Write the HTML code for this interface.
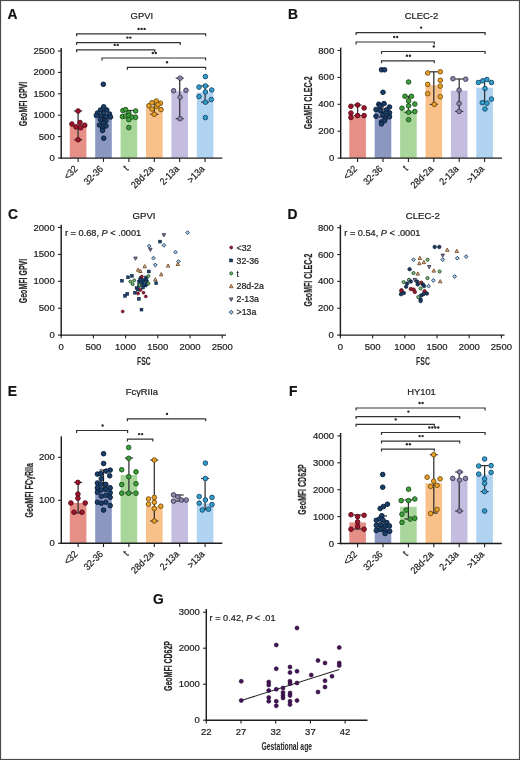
<!DOCTYPE html><html><head><meta charset="utf-8"><style>html,body{margin:0;padding:0;background:#fff;}svg{display:block;will-change:transform;}</style></head><body>
<svg width="520" height="760" viewBox="0 0 520 760" font-family='"Liberation Sans", sans-serif'>
<style>text{stroke:#1e1e1e;stroke-width:0.22px;} text.nb{stroke:none;}</style>
<rect x="0" y="0" width="520" height="760" fill="#fff"/>
<text x="7.60" y="18.70" font-size="13.8" text-anchor="start" font-weight="bold" fill="#111" >A</text>
<text x="141.80" y="18.90" font-size="9.4" text-anchor="middle" font-weight="normal" fill="#222222" >GPVI</text>
<text transform="translate(23.30,104.00) rotate(-90)" x="0" y="0" font-size="10.4" text-anchor="middle" dominant-baseline="central" fill="#262626" font-weight="bold" textLength="44.5" lengthAdjust="spacingAndGlyphs">GeoMFI GPVI</text>
<rect x="69.80" y="125.60" width="16.6" height="32.50" fill="#e68f87"/>
<rect x="95.20" y="116.30" width="16.6" height="41.80" fill="#8b97c0"/>
<rect x="120.60" y="114.90" width="16.6" height="43.20" fill="#a9d69b"/>
<rect x="146.00" y="107.50" width="16.6" height="50.60" fill="#f8c189"/>
<rect x="171.40" y="91.30" width="16.6" height="66.80" fill="#c4bde0"/>
<rect x="196.80" y="92.50" width="16.6" height="65.60" fill="#afd3f1"/>
<line x1="78.10" y1="111.00" x2="78.10" y2="139.75" stroke="#2e2e2e" stroke-width="1.25"/>
<line x1="74.10" y1="111.00" x2="82.10" y2="111.00" stroke="#2e2e2e" stroke-width="1.2"/>
<line x1="74.10" y1="139.75" x2="82.10" y2="139.75" stroke="#2e2e2e" stroke-width="1.2"/>
<line x1="103.50" y1="110.00" x2="103.50" y2="124.00" stroke="#2e2e2e" stroke-width="1.25"/>
<line x1="99.50" y1="110.00" x2="107.50" y2="110.00" stroke="#2e2e2e" stroke-width="1.2"/>
<line x1="99.50" y1="124.00" x2="107.50" y2="124.00" stroke="#2e2e2e" stroke-width="1.2"/>
<line x1="128.90" y1="110.50" x2="128.90" y2="117.50" stroke="#2e2e2e" stroke-width="1.25"/>
<line x1="124.90" y1="110.50" x2="132.90" y2="110.50" stroke="#2e2e2e" stroke-width="1.2"/>
<line x1="124.90" y1="117.50" x2="132.90" y2="117.50" stroke="#2e2e2e" stroke-width="1.2"/>
<line x1="154.30" y1="102.00" x2="154.30" y2="114.30" stroke="#2e2e2e" stroke-width="1.25"/>
<line x1="150.30" y1="102.00" x2="158.30" y2="102.00" stroke="#2e2e2e" stroke-width="1.2"/>
<line x1="150.30" y1="114.30" x2="158.30" y2="114.30" stroke="#2e2e2e" stroke-width="1.2"/>
<line x1="179.70" y1="78.20" x2="179.70" y2="118.70" stroke="#2e2e2e" stroke-width="1.25"/>
<line x1="175.70" y1="78.20" x2="183.70" y2="78.20" stroke="#2e2e2e" stroke-width="1.2"/>
<line x1="175.70" y1="118.70" x2="183.70" y2="118.70" stroke="#2e2e2e" stroke-width="1.2"/>
<line x1="205.10" y1="86.00" x2="205.10" y2="102.20" stroke="#2e2e2e" stroke-width="1.25"/>
<line x1="201.10" y1="86.00" x2="209.10" y2="86.00" stroke="#2e2e2e" stroke-width="1.2"/>
<line x1="201.10" y1="102.20" x2="209.10" y2="102.20" stroke="#2e2e2e" stroke-width="1.2"/>
<circle cx="78.10" cy="111.00" r="2.3" fill="#9e162c" stroke="#5c0c18" stroke-width="0.95"/>
<circle cx="71.90" cy="124.00" r="2.3" fill="#9e162c" stroke="#5c0c18" stroke-width="0.95"/>
<circle cx="80.00" cy="122.50" r="2.3" fill="#9e162c" stroke="#5c0c18" stroke-width="0.95"/>
<circle cx="76.00" cy="126.90" r="2.3" fill="#9e162c" stroke="#5c0c18" stroke-width="0.95"/>
<circle cx="80.60" cy="127.75" r="2.3" fill="#9e162c" stroke="#5c0c18" stroke-width="0.95"/>
<circle cx="84.75" cy="125.25" r="2.3" fill="#9e162c" stroke="#5c0c18" stroke-width="0.95"/>
<circle cx="78.10" cy="139.75" r="2.3" fill="#9e162c" stroke="#5c0c18" stroke-width="0.95"/>
<circle cx="103.30" cy="84.30" r="2.3" fill="#1a3e68" stroke="#0a1f38" stroke-width="0.95"/>
<circle cx="103.70" cy="106.80" r="2.3" fill="#1a3e68" stroke="#0a1f38" stroke-width="0.95"/>
<circle cx="100.50" cy="110.00" r="2.3" fill="#1a3e68" stroke="#0a1f38" stroke-width="0.95"/>
<circle cx="106.80" cy="110.00" r="2.3" fill="#1a3e68" stroke="#0a1f38" stroke-width="0.95"/>
<circle cx="97.50" cy="113.00" r="2.3" fill="#1a3e68" stroke="#0a1f38" stroke-width="0.95"/>
<circle cx="103.70" cy="113.00" r="2.3" fill="#1a3e68" stroke="#0a1f38" stroke-width="0.95"/>
<circle cx="109.50" cy="114.00" r="2.3" fill="#1a3e68" stroke="#0a1f38" stroke-width="0.95"/>
<circle cx="96.30" cy="115.50" r="2.3" fill="#1a3e68" stroke="#0a1f38" stroke-width="0.95"/>
<circle cx="101.00" cy="116.00" r="2.3" fill="#1a3e68" stroke="#0a1f38" stroke-width="0.95"/>
<circle cx="106.00" cy="116.50" r="2.3" fill="#1a3e68" stroke="#0a1f38" stroke-width="0.95"/>
<circle cx="110.50" cy="117.00" r="2.3" fill="#1a3e68" stroke="#0a1f38" stroke-width="0.95"/>
<circle cx="100.50" cy="119.50" r="2.3" fill="#1a3e68" stroke="#0a1f38" stroke-width="0.95"/>
<circle cx="106.00" cy="120.50" r="2.3" fill="#1a3e68" stroke="#0a1f38" stroke-width="0.95"/>
<circle cx="103.70" cy="123.00" r="2.3" fill="#1a3e68" stroke="#0a1f38" stroke-width="0.95"/>
<circle cx="99.50" cy="125.00" r="2.3" fill="#1a3e68" stroke="#0a1f38" stroke-width="0.95"/>
<circle cx="106.00" cy="126.00" r="2.3" fill="#1a3e68" stroke="#0a1f38" stroke-width="0.95"/>
<circle cx="102.50" cy="128.50" r="2.3" fill="#1a3e68" stroke="#0a1f38" stroke-width="0.95"/>
<circle cx="102.50" cy="130.50" r="2.3" fill="#1a3e68" stroke="#0a1f38" stroke-width="0.95"/>
<circle cx="103.70" cy="138.20" r="2.3" fill="#1a3e68" stroke="#0a1f38" stroke-width="0.95"/>
<circle cx="122.90" cy="110.60" r="2.3" fill="#3f9f3c" stroke="#1d531c" stroke-width="0.95"/>
<circle cx="125.60" cy="109.60" r="2.3" fill="#3f9f3c" stroke="#1d531c" stroke-width="0.95"/>
<circle cx="135.60" cy="111.00" r="2.3" fill="#3f9f3c" stroke="#1d531c" stroke-width="0.95"/>
<circle cx="128.80" cy="112.80" r="2.3" fill="#3f9f3c" stroke="#1d531c" stroke-width="0.95"/>
<circle cx="122.40" cy="116.50" r="2.3" fill="#3f9f3c" stroke="#1d531c" stroke-width="0.95"/>
<circle cx="125.60" cy="116.00" r="2.3" fill="#3f9f3c" stroke="#1d531c" stroke-width="0.95"/>
<circle cx="128.80" cy="115.40" r="2.3" fill="#3f9f3c" stroke="#1d531c" stroke-width="0.95"/>
<circle cx="131.90" cy="117.00" r="2.3" fill="#3f9f3c" stroke="#1d531c" stroke-width="0.95"/>
<circle cx="135.60" cy="117.30" r="2.3" fill="#3f9f3c" stroke="#1d531c" stroke-width="0.95"/>
<circle cx="128.80" cy="119.60" r="2.3" fill="#3f9f3c" stroke="#1d531c" stroke-width="0.95"/>
<circle cx="128.80" cy="127.60" r="2.3" fill="#3f9f3c" stroke="#1d531c" stroke-width="0.95"/>
<circle cx="148.90" cy="105.70" r="2.3" fill="#e9a02c" stroke="#7a520f" stroke-width="0.95"/>
<circle cx="152.00" cy="102.70" r="2.3" fill="#e9a02c" stroke="#7a520f" stroke-width="0.95"/>
<circle cx="156.30" cy="101.10" r="2.3" fill="#e9a02c" stroke="#7a520f" stroke-width="0.95"/>
<circle cx="160.50" cy="103.20" r="2.3" fill="#e9a02c" stroke="#7a520f" stroke-width="0.95"/>
<circle cx="156.80" cy="106.40" r="2.3" fill="#e9a02c" stroke="#7a520f" stroke-width="0.95"/>
<circle cx="152.00" cy="109.00" r="2.3" fill="#e9a02c" stroke="#7a520f" stroke-width="0.95"/>
<circle cx="161.00" cy="109.60" r="2.3" fill="#e9a02c" stroke="#7a520f" stroke-width="0.95"/>
<circle cx="154.20" cy="114.30" r="2.3" fill="#e9a02c" stroke="#7a520f" stroke-width="0.95"/>
<circle cx="158.00" cy="104.50" r="2.3" fill="#e9a02c" stroke="#7a520f" stroke-width="0.95"/>
<circle cx="173.60" cy="90.70" r="2.3" fill="#8c85a8" stroke="#45405c" stroke-width="0.95"/>
<circle cx="186.00" cy="90.30" r="2.3" fill="#8c85a8" stroke="#45405c" stroke-width="0.95"/>
<circle cx="180.10" cy="78.20" r="2.3" fill="#8c85a8" stroke="#45405c" stroke-width="0.95"/>
<circle cx="180.10" cy="97.20" r="2.3" fill="#8c85a8" stroke="#45405c" stroke-width="0.95"/>
<circle cx="180.10" cy="118.70" r="2.3" fill="#8c85a8" stroke="#45405c" stroke-width="0.95"/>
<circle cx="205.40" cy="76.60" r="2.3" fill="#359dca" stroke="#174f72" stroke-width="0.95"/>
<circle cx="199.00" cy="87.10" r="2.3" fill="#359dca" stroke="#174f72" stroke-width="0.95"/>
<circle cx="205.40" cy="86.00" r="2.3" fill="#359dca" stroke="#174f72" stroke-width="0.95"/>
<circle cx="211.70" cy="90.00" r="2.3" fill="#359dca" stroke="#174f72" stroke-width="0.95"/>
<circle cx="205.40" cy="92.00" r="2.3" fill="#359dca" stroke="#174f72" stroke-width="0.95"/>
<circle cx="199.00" cy="96.60" r="2.3" fill="#359dca" stroke="#174f72" stroke-width="0.95"/>
<circle cx="211.30" cy="99.50" r="2.3" fill="#359dca" stroke="#174f72" stroke-width="0.95"/>
<circle cx="205.40" cy="102.20" r="2.3" fill="#359dca" stroke="#174f72" stroke-width="0.95"/>
<circle cx="205.40" cy="117.60" r="2.3" fill="#359dca" stroke="#174f72" stroke-width="0.95"/>
<line x1="61.20" y1="48.00" x2="61.20" y2="158.80" stroke="#1e1e1e" stroke-width="1.45"/>
<line x1="58.00" y1="158.00" x2="61.20" y2="158.00" stroke="#1e1e1e" stroke-width="1.1"/>
<text x="54.70" y="161.00" font-size="9.5" text-anchor="end" font-weight="normal" fill="#222222" >0</text>
<line x1="58.00" y1="136.60" x2="61.20" y2="136.60" stroke="#1e1e1e" stroke-width="1.1"/>
<text x="54.70" y="139.60" font-size="9.5" text-anchor="end" font-weight="normal" fill="#222222" >500</text>
<line x1="58.00" y1="115.20" x2="61.20" y2="115.20" stroke="#1e1e1e" stroke-width="1.1"/>
<text x="54.70" y="118.20" font-size="9.5" text-anchor="end" font-weight="normal" fill="#222222" >1000</text>
<line x1="58.00" y1="93.80" x2="61.20" y2="93.80" stroke="#1e1e1e" stroke-width="1.1"/>
<text x="54.70" y="96.80" font-size="9.5" text-anchor="end" font-weight="normal" fill="#222222" >1500</text>
<line x1="58.00" y1="72.40" x2="61.20" y2="72.40" stroke="#1e1e1e" stroke-width="1.1"/>
<text x="54.70" y="75.40" font-size="9.5" text-anchor="end" font-weight="normal" fill="#222222" >2000</text>
<line x1="58.00" y1="51.00" x2="61.20" y2="51.00" stroke="#1e1e1e" stroke-width="1.1"/>
<text x="54.70" y="54.00" font-size="9.5" text-anchor="end" font-weight="normal" fill="#222222" >2500</text>
<line x1="60.50" y1="158.10" x2="222.30" y2="158.10" stroke="#1e1e1e" stroke-width="1.45"/>
<line x1="78.10" y1="158.10" x2="78.10" y2="161.90" stroke="#1e1e1e" stroke-width="1.1"/>
<text transform="translate(78.20,169.60) rotate(-45) scale(0.9,1)" x="0" y="0" font-size="9.8" font-weight="500" text-anchor="end" fill="#222222">&lt;32</text>
<line x1="103.50" y1="158.10" x2="103.50" y2="161.90" stroke="#1e1e1e" stroke-width="1.1"/>
<text transform="translate(103.60,169.60) rotate(-45) scale(0.9,1)" x="0" y="0" font-size="9.8" font-weight="500" text-anchor="end" fill="#222222">32-36</text>
<line x1="128.90" y1="158.10" x2="128.90" y2="161.90" stroke="#1e1e1e" stroke-width="1.1"/>
<text transform="translate(129.00,169.60) rotate(-45) scale(0.9,1)" x="0" y="0" font-size="9.8" font-weight="500" text-anchor="end" fill="#222222">t</text>
<line x1="154.30" y1="158.10" x2="154.30" y2="161.90" stroke="#1e1e1e" stroke-width="1.1"/>
<text transform="translate(154.40,169.60) rotate(-45) scale(0.9,1)" x="0" y="0" font-size="9.8" font-weight="500" text-anchor="end" fill="#222222">28d-2a</text>
<line x1="179.70" y1="158.10" x2="179.70" y2="161.90" stroke="#1e1e1e" stroke-width="1.1"/>
<text transform="translate(179.80,169.60) rotate(-45) scale(0.9,1)" x="0" y="0" font-size="9.8" font-weight="500" text-anchor="end" fill="#222222">2-13a</text>
<line x1="205.10" y1="158.10" x2="205.10" y2="161.90" stroke="#1e1e1e" stroke-width="1.1"/>
<text transform="translate(205.20,169.60) rotate(-45) scale(0.9,1)" x="0" y="0" font-size="9.8" font-weight="500" text-anchor="end" fill="#222222">&gt;13a</text>
<path d="M76.60,36.30 V33.90 H205.60 V36.30" fill="none" stroke="#333333" stroke-width="1.2"/>
<circle cx="138.60" cy="28.90" r="1.2" fill="#2a2a2a"/>
<circle cx="141.60" cy="28.90" r="1.2" fill="#2a2a2a"/>
<circle cx="144.60" cy="28.90" r="1.2" fill="#2a2a2a"/>
<path d="M76.60,45.00 V42.60 H180.20 V45.00" fill="none" stroke="#333333" stroke-width="1.2"/>
<circle cx="127.40" cy="37.60" r="1.2" fill="#2a2a2a"/>
<circle cx="130.40" cy="37.60" r="1.2" fill="#2a2a2a"/>
<path d="M76.60,52.30 V49.90 H154.80 V52.30" fill="none" stroke="#333333" stroke-width="1.2"/>
<circle cx="114.70" cy="44.90" r="1.2" fill="#2a2a2a"/>
<circle cx="117.70" cy="44.90" r="1.2" fill="#2a2a2a"/>
<path d="M102.00,60.40 V58.00 H205.60 V60.40" fill="none" stroke="#333333" stroke-width="1.2"/>
<circle cx="152.80" cy="53.00" r="1.2" fill="#2a2a2a"/>
<circle cx="155.80" cy="53.00" r="1.2" fill="#2a2a2a"/>
<path d="M127.40,69.70 V67.30 H205.60 V69.70" fill="none" stroke="#333333" stroke-width="1.2"/>
<circle cx="167.00" cy="62.30" r="1.2" fill="#2a2a2a"/>
<text x="288.00" y="18.70" font-size="13.8" text-anchor="start" font-weight="bold" fill="#111" >B</text>
<text x="421.50" y="18.90" font-size="9.4" text-anchor="middle" font-weight="normal" fill="#222222" >CLEC-2</text>
<text transform="translate(308.30,102.80) rotate(-90)" x="0" y="0" font-size="10.4" text-anchor="middle" dominant-baseline="central" fill="#262626" font-weight="bold" textLength="53.0" lengthAdjust="spacingAndGlyphs">GeoMFI CLEC-2</text>
<rect x="349.30" y="116.40" width="16.6" height="41.70" fill="#e68f87"/>
<rect x="374.70" y="111.00" width="16.6" height="47.10" fill="#8b97c0"/>
<rect x="400.10" y="110.70" width="16.6" height="47.40" fill="#a9d69b"/>
<rect x="425.50" y="85.20" width="16.6" height="72.90" fill="#f8c189"/>
<rect x="450.90" y="90.60" width="16.6" height="67.50" fill="#c4bde0"/>
<rect x="476.30" y="87.70" width="16.6" height="70.40" fill="#afd3f1"/>
<line x1="357.60" y1="105.00" x2="357.60" y2="115.60" stroke="#2e2e2e" stroke-width="1.25"/>
<line x1="353.60" y1="105.00" x2="361.60" y2="105.00" stroke="#2e2e2e" stroke-width="1.2"/>
<line x1="353.60" y1="115.60" x2="361.60" y2="115.60" stroke="#2e2e2e" stroke-width="1.2"/>
<line x1="383.00" y1="104.00" x2="383.00" y2="117.00" stroke="#2e2e2e" stroke-width="1.25"/>
<line x1="379.00" y1="104.00" x2="387.00" y2="104.00" stroke="#2e2e2e" stroke-width="1.2"/>
<line x1="379.00" y1="117.00" x2="387.00" y2="117.00" stroke="#2e2e2e" stroke-width="1.2"/>
<line x1="408.40" y1="96.30" x2="408.40" y2="112.30" stroke="#2e2e2e" stroke-width="1.25"/>
<line x1="404.40" y1="96.30" x2="412.40" y2="96.30" stroke="#2e2e2e" stroke-width="1.2"/>
<line x1="404.40" y1="112.30" x2="412.40" y2="112.30" stroke="#2e2e2e" stroke-width="1.2"/>
<line x1="433.80" y1="71.80" x2="433.80" y2="104.40" stroke="#2e2e2e" stroke-width="1.25"/>
<line x1="429.80" y1="71.80" x2="437.80" y2="71.80" stroke="#2e2e2e" stroke-width="1.2"/>
<line x1="429.80" y1="104.40" x2="437.80" y2="104.40" stroke="#2e2e2e" stroke-width="1.2"/>
<line x1="459.20" y1="79.00" x2="459.20" y2="111.40" stroke="#2e2e2e" stroke-width="1.25"/>
<line x1="455.20" y1="79.00" x2="463.20" y2="79.00" stroke="#2e2e2e" stroke-width="1.2"/>
<line x1="455.20" y1="111.40" x2="463.20" y2="111.40" stroke="#2e2e2e" stroke-width="1.2"/>
<line x1="484.60" y1="80.80" x2="484.60" y2="102.70" stroke="#2e2e2e" stroke-width="1.25"/>
<line x1="480.60" y1="80.80" x2="488.60" y2="80.80" stroke="#2e2e2e" stroke-width="1.2"/>
<line x1="480.60" y1="102.70" x2="488.60" y2="102.70" stroke="#2e2e2e" stroke-width="1.2"/>
<circle cx="350.90" cy="106.30" r="2.3" fill="#9e162c" stroke="#5c0c18" stroke-width="0.95"/>
<circle cx="357.60" cy="105.00" r="2.3" fill="#9e162c" stroke="#5c0c18" stroke-width="0.95"/>
<circle cx="364.10" cy="107.90" r="2.3" fill="#9e162c" stroke="#5c0c18" stroke-width="0.95"/>
<circle cx="350.90" cy="113.10" r="2.3" fill="#9e162c" stroke="#5c0c18" stroke-width="0.95"/>
<circle cx="357.60" cy="115.60" r="2.3" fill="#9e162c" stroke="#5c0c18" stroke-width="0.95"/>
<circle cx="364.10" cy="115.60" r="2.3" fill="#9e162c" stroke="#5c0c18" stroke-width="0.95"/>
<circle cx="350.90" cy="117.50" r="2.3" fill="#9e162c" stroke="#5c0c18" stroke-width="0.95"/>
<circle cx="381.50" cy="69.80" r="2.3" fill="#1a3e68" stroke="#0a1f38" stroke-width="0.95"/>
<circle cx="384.60" cy="69.80" r="2.3" fill="#1a3e68" stroke="#0a1f38" stroke-width="0.95"/>
<circle cx="383.00" cy="92.30" r="2.3" fill="#1a3e68" stroke="#0a1f38" stroke-width="0.95"/>
<circle cx="378.80" cy="104.20" r="2.3" fill="#1a3e68" stroke="#0a1f38" stroke-width="0.95"/>
<circle cx="384.00" cy="103.60" r="2.3" fill="#1a3e68" stroke="#0a1f38" stroke-width="0.95"/>
<circle cx="389.50" cy="107.00" r="2.3" fill="#1a3e68" stroke="#0a1f38" stroke-width="0.95"/>
<circle cx="376.00" cy="109.50" r="2.3" fill="#1a3e68" stroke="#0a1f38" stroke-width="0.95"/>
<circle cx="386.50" cy="109.80" r="2.3" fill="#1a3e68" stroke="#0a1f38" stroke-width="0.95"/>
<circle cx="380.30" cy="110.40" r="2.3" fill="#1a3e68" stroke="#0a1f38" stroke-width="0.95"/>
<circle cx="389.50" cy="112.80" r="2.3" fill="#1a3e68" stroke="#0a1f38" stroke-width="0.95"/>
<circle cx="376.00" cy="116.20" r="2.3" fill="#1a3e68" stroke="#0a1f38" stroke-width="0.95"/>
<circle cx="389.50" cy="116.80" r="2.3" fill="#1a3e68" stroke="#0a1f38" stroke-width="0.95"/>
<circle cx="382.80" cy="114.70" r="2.3" fill="#1a3e68" stroke="#0a1f38" stroke-width="0.95"/>
<circle cx="385.20" cy="118.40" r="2.3" fill="#1a3e68" stroke="#0a1f38" stroke-width="0.95"/>
<circle cx="381.50" cy="122.00" r="2.3" fill="#1a3e68" stroke="#0a1f38" stroke-width="0.95"/>
<circle cx="381.50" cy="123.90" r="2.3" fill="#1a3e68" stroke="#0a1f38" stroke-width="0.95"/>
<circle cx="384.60" cy="120.80" r="2.3" fill="#1a3e68" stroke="#0a1f38" stroke-width="0.95"/>
<circle cx="380.00" cy="106.00" r="2.3" fill="#1a3e68" stroke="#0a1f38" stroke-width="0.95"/>
<circle cx="386.00" cy="113.00" r="2.3" fill="#1a3e68" stroke="#0a1f38" stroke-width="0.95"/>
<circle cx="408.60" cy="82.00" r="2.3" fill="#3f9f3c" stroke="#1d531c" stroke-width="0.95"/>
<circle cx="405.00" cy="96.30" r="2.3" fill="#3f9f3c" stroke="#1d531c" stroke-width="0.95"/>
<circle cx="411.50" cy="96.30" r="2.3" fill="#3f9f3c" stroke="#1d531c" stroke-width="0.95"/>
<circle cx="408.60" cy="100.90" r="2.3" fill="#3f9f3c" stroke="#1d531c" stroke-width="0.95"/>
<circle cx="414.80" cy="104.10" r="2.3" fill="#3f9f3c" stroke="#1d531c" stroke-width="0.95"/>
<circle cx="408.60" cy="105.80" r="2.3" fill="#3f9f3c" stroke="#1d531c" stroke-width="0.95"/>
<circle cx="402.00" cy="108.20" r="2.3" fill="#3f9f3c" stroke="#1d531c" stroke-width="0.95"/>
<circle cx="414.80" cy="111.50" r="2.3" fill="#3f9f3c" stroke="#1d531c" stroke-width="0.95"/>
<circle cx="408.60" cy="112.30" r="2.3" fill="#3f9f3c" stroke="#1d531c" stroke-width="0.95"/>
<circle cx="408.60" cy="119.70" r="2.3" fill="#3f9f3c" stroke="#1d531c" stroke-width="0.95"/>
<circle cx="427.70" cy="73.00" r="2.3" fill="#e9a02c" stroke="#7a520f" stroke-width="0.95"/>
<circle cx="440.30" cy="71.80" r="2.3" fill="#e9a02c" stroke="#7a520f" stroke-width="0.95"/>
<circle cx="440.30" cy="80.30" r="2.3" fill="#e9a02c" stroke="#7a520f" stroke-width="0.95"/>
<circle cx="427.70" cy="84.40" r="2.3" fill="#e9a02c" stroke="#7a520f" stroke-width="0.95"/>
<circle cx="440.30" cy="86.10" r="2.3" fill="#e9a02c" stroke="#7a520f" stroke-width="0.95"/>
<circle cx="427.70" cy="93.70" r="2.3" fill="#e9a02c" stroke="#7a520f" stroke-width="0.95"/>
<circle cx="440.30" cy="96.70" r="2.3" fill="#e9a02c" stroke="#7a520f" stroke-width="0.95"/>
<circle cx="434.30" cy="104.40" r="2.3" fill="#e9a02c" stroke="#7a520f" stroke-width="0.95"/>
<circle cx="452.90" cy="78.70" r="2.3" fill="#8c85a8" stroke="#45405c" stroke-width="0.95"/>
<circle cx="465.70" cy="79.20" r="2.3" fill="#8c85a8" stroke="#45405c" stroke-width="0.95"/>
<circle cx="459.10" cy="90.10" r="2.3" fill="#8c85a8" stroke="#45405c" stroke-width="0.95"/>
<circle cx="459.10" cy="103.50" r="2.3" fill="#8c85a8" stroke="#45405c" stroke-width="0.95"/>
<circle cx="459.10" cy="111.40" r="2.3" fill="#8c85a8" stroke="#45405c" stroke-width="0.95"/>
<circle cx="478.40" cy="82.50" r="2.3" fill="#359dca" stroke="#174f72" stroke-width="0.95"/>
<circle cx="482.80" cy="80.80" r="2.3" fill="#359dca" stroke="#174f72" stroke-width="0.95"/>
<circle cx="486.90" cy="79.50" r="2.3" fill="#359dca" stroke="#174f72" stroke-width="0.95"/>
<circle cx="491.50" cy="82.50" r="2.3" fill="#359dca" stroke="#174f72" stroke-width="0.95"/>
<circle cx="485.00" cy="88.50" r="2.3" fill="#359dca" stroke="#174f72" stroke-width="0.95"/>
<circle cx="491.50" cy="99.10" r="2.3" fill="#359dca" stroke="#174f72" stroke-width="0.95"/>
<circle cx="482.30" cy="102.70" r="2.3" fill="#359dca" stroke="#174f72" stroke-width="0.95"/>
<circle cx="486.90" cy="103.20" r="2.3" fill="#359dca" stroke="#174f72" stroke-width="0.95"/>
<circle cx="485.00" cy="109.00" r="2.3" fill="#359dca" stroke="#174f72" stroke-width="0.95"/>
<line x1="340.70" y1="47.60" x2="340.70" y2="158.80" stroke="#1e1e1e" stroke-width="1.45"/>
<line x1="337.50" y1="158.10" x2="340.70" y2="158.10" stroke="#1e1e1e" stroke-width="1.1"/>
<text x="334.20" y="161.10" font-size="9.5" text-anchor="end" font-weight="normal" fill="#222222" >0</text>
<line x1="337.50" y1="131.20" x2="340.70" y2="131.20" stroke="#1e1e1e" stroke-width="1.1"/>
<text x="334.20" y="134.20" font-size="9.5" text-anchor="end" font-weight="normal" fill="#222222" >200</text>
<line x1="337.50" y1="104.30" x2="340.70" y2="104.30" stroke="#1e1e1e" stroke-width="1.1"/>
<text x="334.20" y="107.30" font-size="9.5" text-anchor="end" font-weight="normal" fill="#222222" >400</text>
<line x1="337.50" y1="77.40" x2="340.70" y2="77.40" stroke="#1e1e1e" stroke-width="1.1"/>
<text x="334.20" y="80.40" font-size="9.5" text-anchor="end" font-weight="normal" fill="#222222" >600</text>
<line x1="337.50" y1="50.50" x2="340.70" y2="50.50" stroke="#1e1e1e" stroke-width="1.1"/>
<text x="334.20" y="53.50" font-size="9.5" text-anchor="end" font-weight="normal" fill="#222222" >800</text>
<line x1="340.00" y1="158.10" x2="502.00" y2="158.10" stroke="#1e1e1e" stroke-width="1.45"/>
<line x1="357.60" y1="158.10" x2="357.60" y2="161.90" stroke="#1e1e1e" stroke-width="1.1"/>
<text transform="translate(357.70,169.60) rotate(-45) scale(0.9,1)" x="0" y="0" font-size="9.8" font-weight="500" text-anchor="end" fill="#222222">&lt;32</text>
<line x1="383.00" y1="158.10" x2="383.00" y2="161.90" stroke="#1e1e1e" stroke-width="1.1"/>
<text transform="translate(383.10,169.60) rotate(-45) scale(0.9,1)" x="0" y="0" font-size="9.8" font-weight="500" text-anchor="end" fill="#222222">32-36</text>
<line x1="408.40" y1="158.10" x2="408.40" y2="161.90" stroke="#1e1e1e" stroke-width="1.1"/>
<text transform="translate(408.50,169.60) rotate(-45) scale(0.9,1)" x="0" y="0" font-size="9.8" font-weight="500" text-anchor="end" fill="#222222">t</text>
<line x1="433.80" y1="158.10" x2="433.80" y2="161.90" stroke="#1e1e1e" stroke-width="1.1"/>
<text transform="translate(433.90,169.60) rotate(-45) scale(0.9,1)" x="0" y="0" font-size="9.8" font-weight="500" text-anchor="end" fill="#222222">28d-2a</text>
<line x1="459.20" y1="158.10" x2="459.20" y2="161.90" stroke="#1e1e1e" stroke-width="1.1"/>
<text transform="translate(459.30,169.60) rotate(-45) scale(0.9,1)" x="0" y="0" font-size="9.8" font-weight="500" text-anchor="end" fill="#222222">2-13a</text>
<line x1="484.60" y1="158.10" x2="484.60" y2="161.90" stroke="#1e1e1e" stroke-width="1.1"/>
<text transform="translate(484.70,169.60) rotate(-45) scale(0.9,1)" x="0" y="0" font-size="9.8" font-weight="500" text-anchor="end" fill="#222222">&gt;13a</text>
<path d="M356.10,35.00 V32.60 H485.10 V35.00" fill="none" stroke="#333333" stroke-width="1.2"/>
<circle cx="421.10" cy="27.60" r="1.2" fill="#2a2a2a"/>
<path d="M356.10,44.40 V42.00 H434.30 V44.40" fill="none" stroke="#333333" stroke-width="1.2"/>
<circle cx="394.20" cy="37.00" r="1.2" fill="#2a2a2a"/>
<circle cx="397.20" cy="37.00" r="1.2" fill="#2a2a2a"/>
<path d="M381.50,53.90 V51.50 H485.10 V53.90" fill="none" stroke="#333333" stroke-width="1.2"/>
<circle cx="433.80" cy="46.50" r="1.2" fill="#2a2a2a"/>
<path d="M381.50,63.20 V60.80 H434.30 V63.20" fill="none" stroke="#333333" stroke-width="1.2"/>
<circle cx="406.90" cy="55.80" r="1.2" fill="#2a2a2a"/>
<circle cx="409.90" cy="55.80" r="1.2" fill="#2a2a2a"/>
<text x="7.80" y="396.20" font-size="13.8" text-anchor="start" font-weight="bold" fill="#111" >E</text>
<text x="141.9" y="395.2" font-size="9.4" text-anchor="middle" fill="#222222">Fc<tspan font-size="9.4">γ</tspan>RIIa</text>
<text transform="translate(29.2,490.3) rotate(-90)" x="0" y="0" font-size="10" text-anchor="middle" dominant-baseline="central" fill="#262626" font-weight="bold" textLength="54.5" lengthAdjust="spacingAndGlyphs">GeoMFI FCγRIIa</text>
<rect x="69.80" y="503.00" width="16.6" height="40.30" fill="#e68f87"/>
<rect x="95.20" y="485.00" width="16.6" height="58.30" fill="#8b97c0"/>
<rect x="120.60" y="475.00" width="16.6" height="68.30" fill="#a9d69b"/>
<rect x="146.00" y="506.50" width="16.6" height="36.80" fill="#f8c189"/>
<rect x="171.40" y="499.80" width="16.6" height="43.50" fill="#c4bde0"/>
<rect x="196.80" y="503.50" width="16.6" height="39.80" fill="#afd3f1"/>
<line x1="78.10" y1="482.40" x2="78.10" y2="513.00" stroke="#2e2e2e" stroke-width="1.25"/>
<line x1="74.10" y1="482.40" x2="82.10" y2="482.40" stroke="#2e2e2e" stroke-width="1.2"/>
<line x1="74.10" y1="513.00" x2="82.10" y2="513.00" stroke="#2e2e2e" stroke-width="1.2"/>
<line x1="103.50" y1="470.00" x2="103.50" y2="489.00" stroke="#2e2e2e" stroke-width="1.25"/>
<line x1="99.50" y1="470.00" x2="107.50" y2="470.00" stroke="#2e2e2e" stroke-width="1.2"/>
<line x1="99.50" y1="489.00" x2="107.50" y2="489.00" stroke="#2e2e2e" stroke-width="1.2"/>
<line x1="128.90" y1="458.00" x2="128.90" y2="493.00" stroke="#2e2e2e" stroke-width="1.25"/>
<line x1="124.90" y1="458.00" x2="132.90" y2="458.00" stroke="#2e2e2e" stroke-width="1.2"/>
<line x1="124.90" y1="493.00" x2="132.90" y2="493.00" stroke="#2e2e2e" stroke-width="1.2"/>
<line x1="154.30" y1="460.00" x2="154.30" y2="521.00" stroke="#2e2e2e" stroke-width="1.25"/>
<line x1="150.30" y1="460.00" x2="158.30" y2="460.00" stroke="#2e2e2e" stroke-width="1.2"/>
<line x1="150.30" y1="521.00" x2="158.30" y2="521.00" stroke="#2e2e2e" stroke-width="1.2"/>
<line x1="179.70" y1="495.00" x2="179.70" y2="501.00" stroke="#2e2e2e" stroke-width="1.25"/>
<line x1="175.70" y1="495.00" x2="183.70" y2="495.00" stroke="#2e2e2e" stroke-width="1.2"/>
<line x1="175.70" y1="501.00" x2="183.70" y2="501.00" stroke="#2e2e2e" stroke-width="1.2"/>
<line x1="205.10" y1="478.50" x2="205.10" y2="509.50" stroke="#2e2e2e" stroke-width="1.25"/>
<line x1="201.10" y1="478.50" x2="209.10" y2="478.50" stroke="#2e2e2e" stroke-width="1.2"/>
<line x1="201.10" y1="509.50" x2="209.10" y2="509.50" stroke="#2e2e2e" stroke-width="1.2"/>
<circle cx="77.90" cy="482.40" r="2.3" fill="#9e162c" stroke="#5c0c18" stroke-width="0.95"/>
<circle cx="77.90" cy="494.10" r="2.3" fill="#9e162c" stroke="#5c0c18" stroke-width="0.95"/>
<circle cx="70.90" cy="503.00" r="2.3" fill="#9e162c" stroke="#5c0c18" stroke-width="0.95"/>
<circle cx="85.20" cy="503.00" r="2.3" fill="#9e162c" stroke="#5c0c18" stroke-width="0.95"/>
<circle cx="77.90" cy="498.30" r="2.3" fill="#9e162c" stroke="#5c0c18" stroke-width="0.95"/>
<circle cx="74.00" cy="512.20" r="2.3" fill="#9e162c" stroke="#5c0c18" stroke-width="0.95"/>
<circle cx="82.00" cy="512.20" r="2.3" fill="#9e162c" stroke="#5c0c18" stroke-width="0.95"/>
<circle cx="103.60" cy="453.70" r="2.3" fill="#1a3e68" stroke="#0a1f38" stroke-width="0.95"/>
<circle cx="103.60" cy="463.50" r="2.3" fill="#1a3e68" stroke="#0a1f38" stroke-width="0.95"/>
<circle cx="110.20" cy="470.10" r="2.3" fill="#1a3e68" stroke="#0a1f38" stroke-width="0.95"/>
<circle cx="106.30" cy="471.10" r="2.3" fill="#1a3e68" stroke="#0a1f38" stroke-width="0.95"/>
<circle cx="97.40" cy="474.10" r="2.3" fill="#1a3e68" stroke="#0a1f38" stroke-width="0.95"/>
<circle cx="100.80" cy="473.60" r="2.3" fill="#1a3e68" stroke="#0a1f38" stroke-width="0.95"/>
<circle cx="109.70" cy="475.80" r="2.3" fill="#1a3e68" stroke="#0a1f38" stroke-width="0.95"/>
<circle cx="101.30" cy="478.70" r="2.3" fill="#1a3e68" stroke="#0a1f38" stroke-width="0.95"/>
<circle cx="97.40" cy="483.00" r="2.3" fill="#1a3e68" stroke="#0a1f38" stroke-width="0.95"/>
<circle cx="100.80" cy="484.00" r="2.3" fill="#1a3e68" stroke="#0a1f38" stroke-width="0.95"/>
<circle cx="105.80" cy="484.40" r="2.3" fill="#1a3e68" stroke="#0a1f38" stroke-width="0.95"/>
<circle cx="97.40" cy="487.90" r="2.3" fill="#1a3e68" stroke="#0a1f38" stroke-width="0.95"/>
<circle cx="110.20" cy="487.90" r="2.3" fill="#1a3e68" stroke="#0a1f38" stroke-width="0.95"/>
<circle cx="101.30" cy="489.90" r="2.3" fill="#1a3e68" stroke="#0a1f38" stroke-width="0.95"/>
<circle cx="105.80" cy="489.40" r="2.3" fill="#1a3e68" stroke="#0a1f38" stroke-width="0.95"/>
<circle cx="97.40" cy="492.30" r="2.3" fill="#1a3e68" stroke="#0a1f38" stroke-width="0.95"/>
<circle cx="110.20" cy="492.80" r="2.3" fill="#1a3e68" stroke="#0a1f38" stroke-width="0.95"/>
<circle cx="101.30" cy="496.30" r="2.3" fill="#1a3e68" stroke="#0a1f38" stroke-width="0.95"/>
<circle cx="105.80" cy="495.30" r="2.3" fill="#1a3e68" stroke="#0a1f38" stroke-width="0.95"/>
<circle cx="110.20" cy="497.30" r="2.3" fill="#1a3e68" stroke="#0a1f38" stroke-width="0.95"/>
<circle cx="97.40" cy="502.20" r="2.3" fill="#1a3e68" stroke="#0a1f38" stroke-width="0.95"/>
<circle cx="101.30" cy="503.20" r="2.3" fill="#1a3e68" stroke="#0a1f38" stroke-width="0.95"/>
<circle cx="105.80" cy="502.20" r="2.3" fill="#1a3e68" stroke="#0a1f38" stroke-width="0.95"/>
<circle cx="110.20" cy="505.60" r="2.3" fill="#1a3e68" stroke="#0a1f38" stroke-width="0.95"/>
<circle cx="103.60" cy="510.10" r="2.3" fill="#1a3e68" stroke="#0a1f38" stroke-width="0.95"/>
<circle cx="128.70" cy="447.50" r="2.3" fill="#3f9f3c" stroke="#1d531c" stroke-width="0.95"/>
<circle cx="128.70" cy="458.30" r="2.3" fill="#3f9f3c" stroke="#1d531c" stroke-width="0.95"/>
<circle cx="121.70" cy="469.70" r="2.3" fill="#3f9f3c" stroke="#1d531c" stroke-width="0.95"/>
<circle cx="136.00" cy="471.90" r="2.3" fill="#3f9f3c" stroke="#1d531c" stroke-width="0.95"/>
<circle cx="128.70" cy="476.70" r="2.3" fill="#3f9f3c" stroke="#1d531c" stroke-width="0.95"/>
<circle cx="121.70" cy="484.60" r="2.3" fill="#3f9f3c" stroke="#1d531c" stroke-width="0.95"/>
<circle cx="136.00" cy="483.70" r="2.3" fill="#3f9f3c" stroke="#1d531c" stroke-width="0.95"/>
<circle cx="128.70" cy="493.20" r="2.3" fill="#3f9f3c" stroke="#1d531c" stroke-width="0.95"/>
<circle cx="121.70" cy="493.20" r="2.3" fill="#3f9f3c" stroke="#1d531c" stroke-width="0.95"/>
<circle cx="136.00" cy="493.20" r="2.3" fill="#3f9f3c" stroke="#1d531c" stroke-width="0.95"/>
<circle cx="154.30" cy="460.00" r="2.3" fill="#e9a02c" stroke="#7a520f" stroke-width="0.95"/>
<circle cx="154.30" cy="497.40" r="2.3" fill="#e9a02c" stroke="#7a520f" stroke-width="0.95"/>
<circle cx="148.50" cy="499.00" r="2.3" fill="#e9a02c" stroke="#7a520f" stroke-width="0.95"/>
<circle cx="148.50" cy="504.20" r="2.3" fill="#e9a02c" stroke="#7a520f" stroke-width="0.95"/>
<circle cx="154.30" cy="502.30" r="2.3" fill="#e9a02c" stroke="#7a520f" stroke-width="0.95"/>
<circle cx="160.80" cy="506.20" r="2.3" fill="#e9a02c" stroke="#7a520f" stroke-width="0.95"/>
<circle cx="154.30" cy="508.50" r="2.3" fill="#e9a02c" stroke="#7a520f" stroke-width="0.95"/>
<circle cx="154.30" cy="521.00" r="2.3" fill="#e9a02c" stroke="#7a520f" stroke-width="0.95"/>
<circle cx="173.50" cy="494.90" r="2.3" fill="#8c85a8" stroke="#45405c" stroke-width="0.95"/>
<circle cx="177.70" cy="496.90" r="2.3" fill="#8c85a8" stroke="#45405c" stroke-width="0.95"/>
<circle cx="173.50" cy="501.10" r="2.3" fill="#8c85a8" stroke="#45405c" stroke-width="0.95"/>
<circle cx="181.50" cy="500.00" r="2.3" fill="#8c85a8" stroke="#45405c" stroke-width="0.95"/>
<circle cx="186.20" cy="500.00" r="2.3" fill="#8c85a8" stroke="#45405c" stroke-width="0.95"/>
<circle cx="205.40" cy="463.10" r="2.3" fill="#359dca" stroke="#174f72" stroke-width="0.95"/>
<circle cx="205.40" cy="478.50" r="2.3" fill="#359dca" stroke="#174f72" stroke-width="0.95"/>
<circle cx="199.20" cy="496.50" r="2.3" fill="#359dca" stroke="#174f72" stroke-width="0.95"/>
<circle cx="212.00" cy="497.40" r="2.3" fill="#359dca" stroke="#174f72" stroke-width="0.95"/>
<circle cx="205.40" cy="500.00" r="2.3" fill="#359dca" stroke="#174f72" stroke-width="0.95"/>
<circle cx="199.20" cy="503.10" r="2.3" fill="#359dca" stroke="#174f72" stroke-width="0.95"/>
<circle cx="212.00" cy="504.60" r="2.3" fill="#359dca" stroke="#174f72" stroke-width="0.95"/>
<circle cx="202.30" cy="510.00" r="2.3" fill="#359dca" stroke="#174f72" stroke-width="0.95"/>
<circle cx="208.50" cy="509.20" r="2.3" fill="#359dca" stroke="#174f72" stroke-width="0.95"/>
<line x1="61.30" y1="436.30" x2="61.30" y2="544.00" stroke="#1e1e1e" stroke-width="1.45"/>
<line x1="58.10" y1="543.30" x2="61.30" y2="543.30" stroke="#1e1e1e" stroke-width="1.1"/>
<text x="54.80" y="546.30" font-size="9.5" text-anchor="end" font-weight="normal" fill="#222222" >0</text>
<line x1="58.10" y1="500.30" x2="61.30" y2="500.30" stroke="#1e1e1e" stroke-width="1.1"/>
<text x="54.80" y="503.30" font-size="9.5" text-anchor="end" font-weight="normal" fill="#222222" >100</text>
<line x1="58.10" y1="457.30" x2="61.30" y2="457.30" stroke="#1e1e1e" stroke-width="1.1"/>
<text x="54.80" y="460.30" font-size="9.5" text-anchor="end" font-weight="normal" fill="#222222" >200</text>
<line x1="60.60" y1="543.30" x2="222.30" y2="543.30" stroke="#1e1e1e" stroke-width="1.45"/>
<line x1="78.10" y1="543.30" x2="78.10" y2="547.10" stroke="#1e1e1e" stroke-width="1.1"/>
<text transform="translate(78.20,554.80) rotate(-45) scale(0.9,1)" x="0" y="0" font-size="9.8" font-weight="500" text-anchor="end" fill="#222222">&lt;32</text>
<line x1="103.50" y1="543.30" x2="103.50" y2="547.10" stroke="#1e1e1e" stroke-width="1.1"/>
<text transform="translate(103.60,554.80) rotate(-45) scale(0.9,1)" x="0" y="0" font-size="9.8" font-weight="500" text-anchor="end" fill="#222222">32-36</text>
<line x1="128.90" y1="543.30" x2="128.90" y2="547.10" stroke="#1e1e1e" stroke-width="1.1"/>
<text transform="translate(129.00,554.80) rotate(-45) scale(0.9,1)" x="0" y="0" font-size="9.8" font-weight="500" text-anchor="end" fill="#222222">t</text>
<line x1="154.30" y1="543.30" x2="154.30" y2="547.10" stroke="#1e1e1e" stroke-width="1.1"/>
<text transform="translate(154.40,554.80) rotate(-45) scale(0.9,1)" x="0" y="0" font-size="9.8" font-weight="500" text-anchor="end" fill="#222222">28d-2a</text>
<line x1="179.70" y1="543.30" x2="179.70" y2="547.10" stroke="#1e1e1e" stroke-width="1.1"/>
<text transform="translate(179.80,554.80) rotate(-45) scale(0.9,1)" x="0" y="0" font-size="9.8" font-weight="500" text-anchor="end" fill="#222222">2-13a</text>
<line x1="205.10" y1="543.30" x2="205.10" y2="547.10" stroke="#1e1e1e" stroke-width="1.1"/>
<text transform="translate(205.20,554.80) rotate(-45) scale(0.9,1)" x="0" y="0" font-size="9.8" font-weight="500" text-anchor="end" fill="#222222">&gt;13a</text>
<path d="M76.60,432.90 V430.50 H127.60 V432.90" fill="none" stroke="#333333" stroke-width="1.2"/>
<circle cx="102.60" cy="425.50" r="1.2" fill="#2a2a2a"/>
<path d="M127.40,421.30 V418.90 H205.60 V421.30" fill="none" stroke="#333333" stroke-width="1.2"/>
<circle cx="167.00" cy="413.90" r="1.2" fill="#2a2a2a"/>
<path d="M127.40,441.50 V439.10 H152.80 V441.50" fill="none" stroke="#333333" stroke-width="1.2"/>
<circle cx="139.10" cy="434.10" r="1.2" fill="#2a2a2a"/>
<circle cx="142.10" cy="434.10" r="1.2" fill="#2a2a2a"/>
<text x="289.00" y="396.20" font-size="13.8" text-anchor="start" font-weight="bold" fill="#111" >F</text>
<text x="421.50" y="395.20" font-size="9.4" text-anchor="middle" font-weight="normal" fill="#222222" >HY101</text>
<text transform="translate(302.80,489.50) rotate(-90)" x="0" y="0" font-size="10.4" text-anchor="middle" dominant-baseline="central" fill="#262626" font-weight="bold" textLength="50.5" lengthAdjust="spacingAndGlyphs">GeoMFI CD62P</text>
<rect x="349.30" y="522.40" width="16.6" height="21.10" fill="#e68f87"/>
<rect x="374.70" y="525.00" width="16.6" height="18.50" fill="#8b97c0"/>
<rect x="400.10" y="506.80" width="16.6" height="36.70" fill="#a9d69b"/>
<rect x="425.50" y="483.30" width="16.6" height="60.20" fill="#f8c189"/>
<rect x="450.90" y="478.40" width="16.6" height="65.10" fill="#c4bde0"/>
<rect x="476.30" y="474.60" width="16.6" height="68.90" fill="#afd3f1"/>
<line x1="357.60" y1="515.00" x2="357.60" y2="529.00" stroke="#2e2e2e" stroke-width="1.25"/>
<line x1="353.60" y1="515.00" x2="361.60" y2="515.00" stroke="#2e2e2e" stroke-width="1.2"/>
<line x1="353.60" y1="529.00" x2="361.60" y2="529.00" stroke="#2e2e2e" stroke-width="1.2"/>
<line x1="383.00" y1="516.00" x2="383.00" y2="531.00" stroke="#2e2e2e" stroke-width="1.25"/>
<line x1="379.00" y1="516.00" x2="387.00" y2="516.00" stroke="#2e2e2e" stroke-width="1.2"/>
<line x1="379.00" y1="531.00" x2="387.00" y2="531.00" stroke="#2e2e2e" stroke-width="1.2"/>
<line x1="408.40" y1="500.00" x2="408.40" y2="519.00" stroke="#2e2e2e" stroke-width="1.25"/>
<line x1="404.40" y1="500.00" x2="412.40" y2="500.00" stroke="#2e2e2e" stroke-width="1.2"/>
<line x1="404.40" y1="519.00" x2="412.40" y2="519.00" stroke="#2e2e2e" stroke-width="1.2"/>
<line x1="433.80" y1="454.70" x2="433.80" y2="513.00" stroke="#2e2e2e" stroke-width="1.25"/>
<line x1="429.80" y1="454.70" x2="437.80" y2="454.70" stroke="#2e2e2e" stroke-width="1.2"/>
<line x1="429.80" y1="513.00" x2="437.80" y2="513.00" stroke="#2e2e2e" stroke-width="1.2"/>
<line x1="459.20" y1="472.00" x2="459.20" y2="511.00" stroke="#2e2e2e" stroke-width="1.25"/>
<line x1="455.20" y1="472.00" x2="463.20" y2="472.00" stroke="#2e2e2e" stroke-width="1.2"/>
<line x1="455.20" y1="511.00" x2="463.20" y2="511.00" stroke="#2e2e2e" stroke-width="1.2"/>
<line x1="484.60" y1="465.60" x2="484.60" y2="491.60" stroke="#2e2e2e" stroke-width="1.25"/>
<line x1="480.60" y1="465.60" x2="488.60" y2="465.60" stroke="#2e2e2e" stroke-width="1.2"/>
<line x1="480.60" y1="491.60" x2="488.60" y2="491.60" stroke="#2e2e2e" stroke-width="1.2"/>
<circle cx="351.00" cy="514.70" r="2.3" fill="#9e162c" stroke="#5c0c18" stroke-width="0.95"/>
<circle cx="357.60" cy="516.60" r="2.3" fill="#9e162c" stroke="#5c0c18" stroke-width="0.95"/>
<circle cx="364.10" cy="515.30" r="2.3" fill="#9e162c" stroke="#5c0c18" stroke-width="0.95"/>
<circle cx="357.60" cy="521.90" r="2.3" fill="#9e162c" stroke="#5c0c18" stroke-width="0.95"/>
<circle cx="357.60" cy="526.40" r="2.3" fill="#9e162c" stroke="#5c0c18" stroke-width="0.95"/>
<circle cx="351.00" cy="529.20" r="2.3" fill="#9e162c" stroke="#5c0c18" stroke-width="0.95"/>
<circle cx="364.10" cy="529.20" r="2.3" fill="#9e162c" stroke="#5c0c18" stroke-width="0.95"/>
<circle cx="382.70" cy="474.50" r="2.3" fill="#1a3e68" stroke="#0a1f38" stroke-width="0.95"/>
<circle cx="382.70" cy="487.20" r="2.3" fill="#1a3e68" stroke="#0a1f38" stroke-width="0.95"/>
<circle cx="380.20" cy="508.50" r="2.3" fill="#1a3e68" stroke="#0a1f38" stroke-width="0.95"/>
<circle cx="383.50" cy="506.50" r="2.3" fill="#1a3e68" stroke="#0a1f38" stroke-width="0.95"/>
<circle cx="387.40" cy="504.20" r="2.3" fill="#1a3e68" stroke="#0a1f38" stroke-width="0.95"/>
<circle cx="381.80" cy="515.70" r="2.3" fill="#1a3e68" stroke="#0a1f38" stroke-width="0.95"/>
<circle cx="376.30" cy="520.30" r="2.3" fill="#1a3e68" stroke="#0a1f38" stroke-width="0.95"/>
<circle cx="379.50" cy="519.00" r="2.3" fill="#1a3e68" stroke="#0a1f38" stroke-width="0.95"/>
<circle cx="386.80" cy="522.60" r="2.3" fill="#1a3e68" stroke="#0a1f38" stroke-width="0.95"/>
<circle cx="376.30" cy="525.30" r="2.3" fill="#1a3e68" stroke="#0a1f38" stroke-width="0.95"/>
<circle cx="380.50" cy="524.60" r="2.3" fill="#1a3e68" stroke="#0a1f38" stroke-width="0.95"/>
<circle cx="385.10" cy="525.90" r="2.3" fill="#1a3e68" stroke="#0a1f38" stroke-width="0.95"/>
<circle cx="389.40" cy="525.90" r="2.3" fill="#1a3e68" stroke="#0a1f38" stroke-width="0.95"/>
<circle cx="376.30" cy="530.50" r="2.3" fill="#1a3e68" stroke="#0a1f38" stroke-width="0.95"/>
<circle cx="380.50" cy="529.20" r="2.3" fill="#1a3e68" stroke="#0a1f38" stroke-width="0.95"/>
<circle cx="385.10" cy="530.90" r="2.3" fill="#1a3e68" stroke="#0a1f38" stroke-width="0.95"/>
<circle cx="389.70" cy="531.20" r="2.3" fill="#1a3e68" stroke="#0a1f38" stroke-width="0.95"/>
<circle cx="385.10" cy="533.50" r="2.3" fill="#1a3e68" stroke="#0a1f38" stroke-width="0.95"/>
<circle cx="383.00" cy="520.00" r="2.3" fill="#1a3e68" stroke="#0a1f38" stroke-width="0.95"/>
<circle cx="408.60" cy="489.20" r="2.3" fill="#3f9f3c" stroke="#1d531c" stroke-width="0.95"/>
<circle cx="401.20" cy="500.60" r="2.3" fill="#3f9f3c" stroke="#1d531c" stroke-width="0.95"/>
<circle cx="408.60" cy="500.60" r="2.3" fill="#3f9f3c" stroke="#1d531c" stroke-width="0.95"/>
<circle cx="414.80" cy="499.00" r="2.3" fill="#3f9f3c" stroke="#1d531c" stroke-width="0.95"/>
<circle cx="406.10" cy="510.10" r="2.3" fill="#3f9f3c" stroke="#1d531c" stroke-width="0.95"/>
<circle cx="402.00" cy="514.20" r="2.3" fill="#3f9f3c" stroke="#1d531c" stroke-width="0.95"/>
<circle cx="410.20" cy="519.10" r="2.3" fill="#3f9f3c" stroke="#1d531c" stroke-width="0.95"/>
<circle cx="414.80" cy="518.30" r="2.3" fill="#3f9f3c" stroke="#1d531c" stroke-width="0.95"/>
<circle cx="402.00" cy="522.40" r="2.3" fill="#3f9f3c" stroke="#1d531c" stroke-width="0.95"/>
<circle cx="433.70" cy="454.70" r="2.3" fill="#e9a02c" stroke="#7a520f" stroke-width="0.95"/>
<circle cx="427.10" cy="477.20" r="2.3" fill="#e9a02c" stroke="#7a520f" stroke-width="0.95"/>
<circle cx="440.10" cy="478.90" r="2.3" fill="#e9a02c" stroke="#7a520f" stroke-width="0.95"/>
<circle cx="433.70" cy="481.20" r="2.3" fill="#e9a02c" stroke="#7a520f" stroke-width="0.95"/>
<circle cx="430.60" cy="486.40" r="2.3" fill="#e9a02c" stroke="#7a520f" stroke-width="0.95"/>
<circle cx="437.10" cy="485.30" r="2.3" fill="#e9a02c" stroke="#7a520f" stroke-width="0.95"/>
<circle cx="437.10" cy="509.50" r="2.3" fill="#e9a02c" stroke="#7a520f" stroke-width="0.95"/>
<circle cx="430.60" cy="513.50" r="2.3" fill="#e9a02c" stroke="#7a520f" stroke-width="0.95"/>
<circle cx="459.60" cy="472.00" r="2.3" fill="#8c85a8" stroke="#45405c" stroke-width="0.95"/>
<circle cx="452.70" cy="478.40" r="2.3" fill="#8c85a8" stroke="#45405c" stroke-width="0.95"/>
<circle cx="465.50" cy="478.40" r="2.3" fill="#8c85a8" stroke="#45405c" stroke-width="0.95"/>
<circle cx="459.60" cy="480.10" r="2.3" fill="#8c85a8" stroke="#45405c" stroke-width="0.95"/>
<circle cx="459.60" cy="511.00" r="2.3" fill="#8c85a8" stroke="#45405c" stroke-width="0.95"/>
<circle cx="484.60" cy="459.00" r="2.3" fill="#359dca" stroke="#174f72" stroke-width="0.95"/>
<circle cx="478.70" cy="466.00" r="2.3" fill="#359dca" stroke="#174f72" stroke-width="0.95"/>
<circle cx="491.10" cy="465.60" r="2.3" fill="#359dca" stroke="#174f72" stroke-width="0.95"/>
<circle cx="478.70" cy="474.10" r="2.3" fill="#359dca" stroke="#174f72" stroke-width="0.95"/>
<circle cx="491.10" cy="472.40" r="2.3" fill="#359dca" stroke="#174f72" stroke-width="0.95"/>
<circle cx="484.60" cy="478.90" r="2.3" fill="#359dca" stroke="#174f72" stroke-width="0.95"/>
<circle cx="484.60" cy="483.30" r="2.3" fill="#359dca" stroke="#174f72" stroke-width="0.95"/>
<circle cx="484.60" cy="491.60" r="2.3" fill="#359dca" stroke="#174f72" stroke-width="0.95"/>
<circle cx="484.60" cy="511.00" r="2.3" fill="#359dca" stroke="#174f72" stroke-width="0.95"/>
<line x1="340.60" y1="433.00" x2="340.60" y2="544.20" stroke="#1e1e1e" stroke-width="1.45"/>
<line x1="337.40" y1="543.50" x2="340.60" y2="543.50" stroke="#1e1e1e" stroke-width="1.1"/>
<text x="334.10" y="546.50" font-size="9.5" text-anchor="end" font-weight="normal" fill="#222222" >0</text>
<line x1="337.40" y1="516.60" x2="340.60" y2="516.60" stroke="#1e1e1e" stroke-width="1.1"/>
<text x="334.10" y="519.60" font-size="9.5" text-anchor="end" font-weight="normal" fill="#222222" >1000</text>
<line x1="337.40" y1="489.70" x2="340.60" y2="489.70" stroke="#1e1e1e" stroke-width="1.1"/>
<text x="334.10" y="492.70" font-size="9.5" text-anchor="end" font-weight="normal" fill="#222222" >2000</text>
<line x1="337.40" y1="462.80" x2="340.60" y2="462.80" stroke="#1e1e1e" stroke-width="1.1"/>
<text x="334.10" y="465.80" font-size="9.5" text-anchor="end" font-weight="normal" fill="#222222" >3000</text>
<line x1="337.40" y1="435.90" x2="340.60" y2="435.90" stroke="#1e1e1e" stroke-width="1.1"/>
<text x="334.10" y="438.90" font-size="9.5" text-anchor="end" font-weight="normal" fill="#222222" >4000</text>
<line x1="339.90" y1="543.50" x2="501.80" y2="543.50" stroke="#1e1e1e" stroke-width="1.45"/>
<line x1="357.60" y1="543.50" x2="357.60" y2="547.30" stroke="#1e1e1e" stroke-width="1.1"/>
<text transform="translate(357.70,555.00) rotate(-45) scale(0.9,1)" x="0" y="0" font-size="9.8" font-weight="500" text-anchor="end" fill="#222222">&lt;32</text>
<line x1="383.00" y1="543.50" x2="383.00" y2="547.30" stroke="#1e1e1e" stroke-width="1.1"/>
<text transform="translate(383.10,555.00) rotate(-45) scale(0.9,1)" x="0" y="0" font-size="9.8" font-weight="500" text-anchor="end" fill="#222222">32-36</text>
<line x1="408.40" y1="543.50" x2="408.40" y2="547.30" stroke="#1e1e1e" stroke-width="1.1"/>
<text transform="translate(408.50,555.00) rotate(-45) scale(0.9,1)" x="0" y="0" font-size="9.8" font-weight="500" text-anchor="end" fill="#222222">t</text>
<line x1="433.80" y1="543.50" x2="433.80" y2="547.30" stroke="#1e1e1e" stroke-width="1.1"/>
<text transform="translate(433.90,555.00) rotate(-45) scale(0.9,1)" x="0" y="0" font-size="9.8" font-weight="500" text-anchor="end" fill="#222222">28d-2a</text>
<line x1="459.20" y1="543.50" x2="459.20" y2="547.30" stroke="#1e1e1e" stroke-width="1.1"/>
<text transform="translate(459.30,555.00) rotate(-45) scale(0.9,1)" x="0" y="0" font-size="9.8" font-weight="500" text-anchor="end" fill="#222222">2-13a</text>
<line x1="484.60" y1="543.50" x2="484.60" y2="547.30" stroke="#1e1e1e" stroke-width="1.1"/>
<text transform="translate(484.70,555.00) rotate(-45) scale(0.9,1)" x="0" y="0" font-size="9.8" font-weight="500" text-anchor="end" fill="#222222">&gt;13a</text>
<path d="M356.10,410.40 V408.00 H485.10 V410.40" fill="none" stroke="#333333" stroke-width="1.2"/>
<circle cx="419.60" cy="403.00" r="1.2" fill="#2a2a2a"/>
<circle cx="422.60" cy="403.00" r="1.2" fill="#2a2a2a"/>
<path d="M356.10,419.00 V416.60 H459.70 V419.00" fill="none" stroke="#333333" stroke-width="1.2"/>
<circle cx="408.40" cy="411.60" r="1.2" fill="#2a2a2a"/>
<path d="M356.10,426.80 V424.40 H434.30 V426.80" fill="none" stroke="#333333" stroke-width="1.2"/>
<circle cx="395.70" cy="419.40" r="1.2" fill="#2a2a2a"/>
<path d="M381.50,434.90 V432.50 H485.10 V434.90" fill="none" stroke="#333333" stroke-width="1.2"/>
<circle cx="429.30" cy="427.50" r="1.2" fill="#2a2a2a"/>
<circle cx="432.30" cy="427.50" r="1.2" fill="#2a2a2a"/>
<circle cx="435.30" cy="427.50" r="1.2" fill="#2a2a2a"/>
<circle cx="438.30" cy="427.50" r="1.2" fill="#2a2a2a"/>
<path d="M381.50,443.50 V441.10 H459.70 V443.50" fill="none" stroke="#333333" stroke-width="1.2"/>
<circle cx="419.60" cy="436.10" r="1.2" fill="#2a2a2a"/>
<circle cx="422.60" cy="436.10" r="1.2" fill="#2a2a2a"/>
<path d="M381.50,451.60 V449.20 H434.30 V451.60" fill="none" stroke="#333333" stroke-width="1.2"/>
<circle cx="406.90" cy="444.20" r="1.2" fill="#2a2a2a"/>
<circle cx="409.90" cy="444.20" r="1.2" fill="#2a2a2a"/>
<text x="8.00" y="218.70" font-size="13.8" text-anchor="start" font-weight="bold" fill="#111" >C</text>
<text x="144.00" y="219.00" font-size="9.6" text-anchor="middle" font-weight="normal" fill="#222222" >GPVI</text>
<text transform="translate(23.30,281.00) rotate(-90)" x="0" y="0" font-size="10.4" text-anchor="middle" dominant-baseline="central" fill="#262626" font-weight="bold" textLength="44.5" lengthAdjust="spacingAndGlyphs">GeoMFI GPVI</text>
<line x1="61.20" y1="224.80" x2="61.20" y2="335.80" stroke="#1e1e1e" stroke-width="1.45"/>
<line x1="58.00" y1="335.10" x2="61.20" y2="335.10" stroke="#1e1e1e" stroke-width="1.1"/>
<text x="54.70" y="338.10" font-size="9.5" text-anchor="end" font-weight="normal" fill="#222222" >0</text>
<line x1="58.00" y1="308.20" x2="61.20" y2="308.20" stroke="#1e1e1e" stroke-width="1.1"/>
<text x="54.70" y="311.20" font-size="9.5" text-anchor="end" font-weight="normal" fill="#222222" >500</text>
<line x1="58.00" y1="281.30" x2="61.20" y2="281.30" stroke="#1e1e1e" stroke-width="1.1"/>
<text x="54.70" y="284.30" font-size="9.5" text-anchor="end" font-weight="normal" fill="#222222" >1000</text>
<line x1="58.00" y1="254.40" x2="61.20" y2="254.40" stroke="#1e1e1e" stroke-width="1.1"/>
<text x="54.70" y="257.40" font-size="9.5" text-anchor="end" font-weight="normal" fill="#222222" >1500</text>
<line x1="58.00" y1="227.50" x2="61.20" y2="227.50" stroke="#1e1e1e" stroke-width="1.1"/>
<text x="54.70" y="230.50" font-size="9.5" text-anchor="end" font-weight="normal" fill="#222222" >2000</text>
<line x1="60.50" y1="335.10" x2="226.00" y2="335.10" stroke="#1e1e1e" stroke-width="1.45"/>
<line x1="61.20" y1="335.10" x2="61.20" y2="338.30" stroke="#1e1e1e" stroke-width="1.1"/>
<text x="61.20" y="349.70" font-size="9.5" text-anchor="middle" font-weight="normal" fill="#222222" >0</text>
<line x1="93.40" y1="335.10" x2="93.40" y2="338.30" stroke="#1e1e1e" stroke-width="1.1"/>
<text x="93.40" y="349.70" font-size="9.5" text-anchor="middle" font-weight="normal" fill="#222222" >500</text>
<line x1="125.60" y1="335.10" x2="125.60" y2="338.30" stroke="#1e1e1e" stroke-width="1.1"/>
<text x="125.60" y="349.70" font-size="9.5" text-anchor="middle" font-weight="normal" fill="#222222" >1000</text>
<line x1="157.80" y1="335.10" x2="157.80" y2="338.30" stroke="#1e1e1e" stroke-width="1.1"/>
<text x="157.80" y="349.70" font-size="9.5" text-anchor="middle" font-weight="normal" fill="#222222" >1500</text>
<line x1="190.00" y1="335.10" x2="190.00" y2="338.30" stroke="#1e1e1e" stroke-width="1.1"/>
<text x="190.00" y="349.70" font-size="9.5" text-anchor="middle" font-weight="normal" fill="#222222" >2000</text>
<line x1="222.20" y1="335.10" x2="222.20" y2="338.30" stroke="#1e1e1e" stroke-width="1.1"/>
<text x="222.20" y="349.70" font-size="9.5" text-anchor="middle" font-weight="normal" fill="#222222" >2500</text>
<text x="65" y="236.0" font-size="9.2" fill="#222222">r = 0.68, <tspan font-style="italic">P</tspan> &lt; .0001</text>
<text x="143.9" y="365.2" class="nb" font-size="11" text-anchor="middle" fill="#262626" font-weight="bold" textLength="13.8" lengthAdjust="spacingAndGlyphs">FSC</text>
<path d="M163.90,236.88 L165.64,233.69 L162.16,233.69 Z" fill="#8a88a0" stroke="#3a3850" stroke-width="0.9"/>
<path d="M187.60,230.81 L189.48,232.70 L187.60,234.58 L185.72,232.70 Z" fill="#a9cbe6" stroke="#2f4a6a" stroke-width="1.0"/>
<rect x="158.65" y="240.15" width="2.90" height="2.90" fill="#1a3e68" stroke="#0a1f38" stroke-width="0.5"/>
<path d="M163.90,243.42 L165.78,245.30 L163.90,247.19 L162.02,245.30 Z" fill="#a9cbe6" stroke="#2f4a6a" stroke-width="1.0"/>
<path d="M149.20,244.22 L151.08,246.10 L149.20,247.98 L147.31,246.10 Z" fill="#a9cbe6" stroke="#2f4a6a" stroke-width="1.0"/>
<path d="M150.40,251.48 L152.14,248.29 L148.66,248.29 Z" fill="#8a88a0" stroke="#3a3850" stroke-width="0.9"/>
<path d="M175.50,250.31 L177.38,252.20 L175.50,254.08 L173.62,252.20 Z" fill="#a9cbe6" stroke="#2f4a6a" stroke-width="1.0"/>
<path d="M135.50,260.28 L137.24,257.09 L133.76,257.09 Z" fill="#8a88a0" stroke="#3a3850" stroke-width="0.9"/>
<path d="M153.50,256.22 L155.38,258.10 L153.50,259.99 L151.62,258.10 Z" fill="#a9cbe6" stroke="#2f4a6a" stroke-width="1.0"/>
<path d="M178.40,259.62 L180.28,261.50 L178.40,263.38 L176.52,261.50 Z" fill="#a9cbe6" stroke="#2f4a6a" stroke-width="1.0"/>
<path d="M177.80,262.31 L179.54,265.50 L176.06,265.50 Z" fill="#e3bb92" stroke="#7a5230" stroke-width="0.95"/>
<path d="M155.30,263.12 L157.19,265.00 L155.30,266.88 L153.42,265.00 Z" fill="#a9cbe6" stroke="#2f4a6a" stroke-width="1.0"/>
<path d="M168.10,263.92 L169.84,267.11 L166.36,267.11 Z" fill="#e3bb92" stroke="#7a5230" stroke-width="0.95"/>
<path d="M144.70,264.62 L146.44,267.81 L142.96,267.81 Z" fill="#e3bb92" stroke="#7a5230" stroke-width="0.95"/>
<path d="M138.10,268.01 L139.84,271.20 L136.36,271.20 Z" fill="#e3bb92" stroke="#7a5230" stroke-width="0.95"/>
<path d="M140.40,269.31 L142.14,272.50 L138.66,272.50 Z" fill="#e3bb92" stroke="#7a5230" stroke-width="0.95"/>
<rect x="147.35" y="270.05" width="2.90" height="2.90" fill="#1a3e68" stroke="#0a1f38" stroke-width="0.5"/>
<path d="M161.20,272.62 L162.94,275.81 L159.46,275.81 Z" fill="#e3bb92" stroke="#7a5230" stroke-width="0.95"/>
<rect x="130.45" y="274.35" width="2.90" height="2.90" fill="#1a3e68" stroke="#0a1f38" stroke-width="0.5"/>
<rect x="126.65" y="275.85" width="2.90" height="2.90" fill="#1a3e68" stroke="#0a1f38" stroke-width="0.5"/>
<rect x="120.45" y="279.25" width="2.90" height="2.90" fill="#1a3e68" stroke="#0a1f38" stroke-width="0.5"/>
<path d="M155.30,277.72 L157.04,280.91 L153.56,280.91 Z" fill="#e3bb92" stroke="#7a5230" stroke-width="0.95"/>
<rect x="154.75" y="281.75" width="2.90" height="2.90" fill="#1a3e68" stroke="#0a1f38" stroke-width="0.5"/>
<rect x="139.55" y="276.55" width="2.90" height="2.90" fill="#1a3e68" stroke="#0a1f38" stroke-width="0.5"/>
<rect x="142.55" y="278.55" width="2.90" height="2.90" fill="#1a3e68" stroke="#0a1f38" stroke-width="0.5"/>
<rect x="145.55" y="280.55" width="2.90" height="2.90" fill="#1a3e68" stroke="#0a1f38" stroke-width="0.5"/>
<rect x="140.55" y="282.55" width="2.90" height="2.90" fill="#1a3e68" stroke="#0a1f38" stroke-width="0.5"/>
<rect x="144.05" y="284.05" width="2.90" height="2.90" fill="#1a3e68" stroke="#0a1f38" stroke-width="0.5"/>
<rect x="137.55" y="280.55" width="2.90" height="2.90" fill="#1a3e68" stroke="#0a1f38" stroke-width="0.5"/>
<rect x="144.55" y="276.05" width="2.90" height="2.90" fill="#1a3e68" stroke="#0a1f38" stroke-width="0.5"/>
<rect x="138.55" y="278.05" width="2.90" height="2.90" fill="#1a3e68" stroke="#0a1f38" stroke-width="0.5"/>
<rect x="141.55" y="280.05" width="2.90" height="2.90" fill="#1a3e68" stroke="#0a1f38" stroke-width="0.5"/>
<rect x="145.05" y="278.05" width="2.90" height="2.90" fill="#1a3e68" stroke="#0a1f38" stroke-width="0.5"/>
<rect x="139.55" y="281.55" width="2.90" height="2.90" fill="#1a3e68" stroke="#0a1f38" stroke-width="0.5"/>
<rect x="142.55" y="283.55" width="2.90" height="2.90" fill="#1a3e68" stroke="#0a1f38" stroke-width="0.5"/>
<rect x="145.55" y="282.55" width="2.90" height="2.90" fill="#1a3e68" stroke="#0a1f38" stroke-width="0.5"/>
<rect x="137.55" y="284.55" width="2.90" height="2.90" fill="#1a3e68" stroke="#0a1f38" stroke-width="0.5"/>
<rect x="141.55" y="286.05" width="2.90" height="2.90" fill="#1a3e68" stroke="#0a1f38" stroke-width="0.5"/>
<circle cx="141.90" cy="276.50" r="1.45" fill="#961830" stroke="#4a0a15" stroke-width="0.6"/>
<circle cx="148.50" cy="276.10" r="1.45" fill="#7ab675" stroke="#2a5e28" stroke-width="1.0"/>
<circle cx="148.50" cy="283.50" r="1.45" fill="#7ab675" stroke="#2a5e28" stroke-width="1.0"/>
<circle cx="130.40" cy="281.60" r="1.45" fill="#7ab675" stroke="#2a5e28" stroke-width="1.0"/>
<circle cx="134.20" cy="280.40" r="1.45" fill="#7ab675" stroke="#2a5e28" stroke-width="1.0"/>
<circle cx="132.70" cy="284.20" r="1.45" fill="#7ab675" stroke="#2a5e28" stroke-width="1.0"/>
<circle cx="139.50" cy="285.00" r="1.45" fill="#7ab675" stroke="#2a5e28" stroke-width="1.0"/>
<rect x="135.05" y="286.65" width="2.90" height="2.90" fill="#1a3e68" stroke="#0a1f38" stroke-width="0.5"/>
<rect x="136.65" y="288.15" width="2.90" height="2.90" fill="#1a3e68" stroke="#0a1f38" stroke-width="0.5"/>
<rect x="133.55" y="291.25" width="2.90" height="2.90" fill="#1a3e68" stroke="#0a1f38" stroke-width="0.5"/>
<circle cx="138.10" cy="293.50" r="1.45" fill="#961830" stroke="#4a0a15" stroke-width="0.6"/>
<circle cx="143.50" cy="292.70" r="1.45" fill="#961830" stroke="#4a0a15" stroke-width="0.6"/>
<circle cx="145.80" cy="296.50" r="1.45" fill="#961830" stroke="#4a0a15" stroke-width="0.6"/>
<circle cx="140.50" cy="290.00" r="1.45" fill="#961830" stroke="#4a0a15" stroke-width="0.6"/>
<rect x="123.55" y="294.35" width="2.90" height="2.90" fill="#1a3e68" stroke="#0a1f38" stroke-width="0.5"/>
<rect x="125.85" y="292.35" width="2.90" height="2.90" fill="#1a3e68" stroke="#0a1f38" stroke-width="0.5"/>
<rect x="137.35" y="297.35" width="2.90" height="2.90" fill="#1a3e68" stroke="#0a1f38" stroke-width="0.5"/>
<rect x="140.05" y="308.15" width="2.90" height="2.90" fill="#1a3e68" stroke="#0a1f38" stroke-width="0.5"/>
<circle cx="122.70" cy="311.50" r="1.45" fill="#961830" stroke="#4a0a15" stroke-width="0.6"/>
<circle cx="231.20" cy="247.50" r="1.50" fill="#961830" stroke="#4a0a15" stroke-width="0.6"/>
<text x="236.50" y="250.60" font-size="8.8" text-anchor="start" font-weight="normal" fill="#222222" >&lt;32</text>
<rect x="229.70" y="258.95" width="3.00" height="3.00" fill="#1a3e68" stroke="#0a1f38" stroke-width="0.5"/>
<text x="236.50" y="263.55" font-size="8.8" text-anchor="start" font-weight="normal" fill="#222222" >32-36</text>
<circle cx="231.20" cy="273.40" r="1.50" fill="#7ab675" stroke="#2a5e28" stroke-width="1.0"/>
<text x="236.50" y="276.50" font-size="8.8" text-anchor="start" font-weight="normal" fill="#222222" >t</text>
<path d="M231.20,284.40 L233.00,287.70 L229.40,287.70 Z" fill="#e3bb92" stroke="#7a5230" stroke-width="0.95"/>
<text x="236.50" y="289.45" font-size="8.8" text-anchor="start" font-weight="normal" fill="#222222" >28d-2a</text>
<path d="M231.20,301.25 L233.00,297.95 L229.40,297.95 Z" fill="#8a88a0" stroke="#3a3850" stroke-width="0.9"/>
<text x="236.50" y="302.40" font-size="8.8" text-anchor="start" font-weight="normal" fill="#222222" >2-13a</text>
<path d="M231.20,310.30 L233.15,312.25 L231.20,314.20 L229.25,312.25 Z" fill="#a9cbe6" stroke="#2f4a6a" stroke-width="1.0"/>
<text x="236.50" y="315.35" font-size="8.8" text-anchor="start" font-weight="normal" fill="#222222" >&gt;13a</text>
<text x="287.60" y="218.70" font-size="13.8" text-anchor="start" font-weight="bold" fill="#111" >D</text>
<text x="422.80" y="218.80" font-size="9.6" text-anchor="middle" font-weight="normal" fill="#222222" >CLEC-2</text>
<text transform="translate(308.50,280.00) rotate(-90)" x="0" y="0" font-size="10.4" text-anchor="middle" dominant-baseline="central" fill="#262626" font-weight="bold" textLength="53.0" lengthAdjust="spacingAndGlyphs">GeoMFI CLEC-2</text>
<line x1="340.40" y1="224.80" x2="340.40" y2="335.80" stroke="#1e1e1e" stroke-width="1.45"/>
<line x1="337.20" y1="335.10" x2="340.40" y2="335.10" stroke="#1e1e1e" stroke-width="1.1"/>
<text x="333.90" y="338.10" font-size="9.5" text-anchor="end" font-weight="normal" fill="#222222" >0</text>
<line x1="337.20" y1="308.25" x2="340.40" y2="308.25" stroke="#1e1e1e" stroke-width="1.1"/>
<text x="333.90" y="311.25" font-size="9.5" text-anchor="end" font-weight="normal" fill="#222222" >200</text>
<line x1="337.20" y1="281.40" x2="340.40" y2="281.40" stroke="#1e1e1e" stroke-width="1.1"/>
<text x="333.90" y="284.40" font-size="9.5" text-anchor="end" font-weight="normal" fill="#222222" >400</text>
<line x1="337.20" y1="254.55" x2="340.40" y2="254.55" stroke="#1e1e1e" stroke-width="1.1"/>
<text x="333.90" y="257.55" font-size="9.5" text-anchor="end" font-weight="normal" fill="#222222" >600</text>
<line x1="337.20" y1="227.70" x2="340.40" y2="227.70" stroke="#1e1e1e" stroke-width="1.1"/>
<text x="333.90" y="230.70" font-size="9.5" text-anchor="end" font-weight="normal" fill="#222222" >800</text>
<line x1="339.70" y1="335.10" x2="504.50" y2="335.10" stroke="#1e1e1e" stroke-width="1.45"/>
<line x1="340.40" y1="335.10" x2="340.40" y2="338.30" stroke="#1e1e1e" stroke-width="1.1"/>
<text x="340.40" y="349.70" font-size="9.5" text-anchor="middle" font-weight="normal" fill="#222222" >0</text>
<line x1="372.60" y1="335.10" x2="372.60" y2="338.30" stroke="#1e1e1e" stroke-width="1.1"/>
<text x="372.60" y="349.70" font-size="9.5" text-anchor="middle" font-weight="normal" fill="#222222" >500</text>
<line x1="404.80" y1="335.10" x2="404.80" y2="338.30" stroke="#1e1e1e" stroke-width="1.1"/>
<text x="404.80" y="349.70" font-size="9.5" text-anchor="middle" font-weight="normal" fill="#222222" >1000</text>
<line x1="437.00" y1="335.10" x2="437.00" y2="338.30" stroke="#1e1e1e" stroke-width="1.1"/>
<text x="437.00" y="349.70" font-size="9.5" text-anchor="middle" font-weight="normal" fill="#222222" >1500</text>
<line x1="469.20" y1="335.10" x2="469.20" y2="338.30" stroke="#1e1e1e" stroke-width="1.1"/>
<text x="469.20" y="349.70" font-size="9.5" text-anchor="middle" font-weight="normal" fill="#222222" >2000</text>
<line x1="501.40" y1="335.10" x2="501.40" y2="338.30" stroke="#1e1e1e" stroke-width="1.1"/>
<text x="501.40" y="349.70" font-size="9.5" text-anchor="middle" font-weight="normal" fill="#222222" >2500</text>
<text x="344.3" y="236.0" font-size="9.2" fill="#222222">r = 0.54, <tspan font-style="italic">P</tspan> &lt; .0001</text>
<text x="423.0" y="365.2" class="nb" font-size="11" text-anchor="middle" fill="#262626" font-weight="bold" textLength="13.8" lengthAdjust="spacingAndGlyphs">FSC</text>
<circle cx="434.70" cy="246.90" r="1.75" fill="#1c3a5e" stroke="#0c2038" stroke-width="0.7"/>
<circle cx="439.30" cy="246.90" r="1.75" fill="#1c3a5e" stroke="#0c2038" stroke-width="0.7"/>
<path d="M447.30,248.12 L449.04,251.31 L445.56,251.31 Z" fill="#e3bb92" stroke="#7a5230" stroke-width="0.95"/>
<path d="M456.80,249.22 L458.54,252.41 L455.06,252.41 Z" fill="#e3bb92" stroke="#7a5230" stroke-width="0.95"/>
<path d="M442.70,257.29 L444.44,254.09 L440.96,254.09 Z" fill="#8a88a0" stroke="#3a3850" stroke-width="0.9"/>
<path d="M442.70,257.81 L444.58,259.70 L442.70,261.58 L440.81,259.70 Z" fill="#a9cbe6" stroke="#2f4a6a" stroke-width="1.0"/>
<path d="M457.30,256.31 L459.19,258.20 L457.30,260.08 L455.42,258.20 Z" fill="#a9cbe6" stroke="#2f4a6a" stroke-width="1.0"/>
<path d="M466.10,254.72 L467.99,256.60 L466.10,258.49 L464.22,256.60 Z" fill="#a9cbe6" stroke="#2f4a6a" stroke-width="1.0"/>
<path d="M413.50,257.81 L415.38,259.70 L413.50,261.58 L411.62,259.70 Z" fill="#a9cbe6" stroke="#2f4a6a" stroke-width="1.0"/>
<path d="M419.90,256.31 L421.64,259.50 L418.16,259.50 Z" fill="#e3bb92" stroke="#7a5230" stroke-width="0.95"/>
<circle cx="427.60" cy="259.70" r="1.55" fill="#8ab888" stroke="#2a5a2a" stroke-width="1.0"/>
<path d="M419.30,261.51 L421.04,264.70 L417.56,264.70 Z" fill="#e3bb92" stroke="#7a5230" stroke-width="0.95"/>
<path d="M423.90,260.42 L425.64,263.61 L422.16,263.61 Z" fill="#e3bb92" stroke="#7a5230" stroke-width="0.95"/>
<path d="M429.20,268.78 L430.94,265.59 L427.46,265.59 Z" fill="#8a88a0" stroke="#3a3850" stroke-width="0.9"/>
<circle cx="409.60" cy="269.20" r="1.75" fill="#1c3a5e" stroke="#0c2038" stroke-width="0.7"/>
<path d="M433.80,268.92 L435.54,272.11 L432.06,272.11 Z" fill="#e3bb92" stroke="#7a5230" stroke-width="0.95"/>
<circle cx="439.60" cy="271.50" r="1.55" fill="#8ab888" stroke="#2a5a2a" stroke-width="1.0"/>
<circle cx="413.50" cy="273.10" r="1.55" fill="#8ab888" stroke="#2a5a2a" stroke-width="1.0"/>
<path d="M417.80,271.92 L419.54,275.11 L416.06,275.11 Z" fill="#e3bb92" stroke="#7a5230" stroke-width="0.95"/>
<path d="M454.70,274.62 L456.58,276.50 L454.70,278.38 L452.81,276.50 Z" fill="#a9cbe6" stroke="#2f4a6a" stroke-width="1.0"/>
<circle cx="427.50" cy="278.10" r="1.55" fill="#8ab888" stroke="#2a5a2a" stroke-width="1.0"/>
<path d="M433.30,278.51 L435.19,280.40 L433.30,282.28 L431.42,280.40 Z" fill="#a9cbe6" stroke="#2f4a6a" stroke-width="1.0"/>
<path d="M440.20,279.62 L441.94,282.81 L438.46,282.81 Z" fill="#e3bb92" stroke="#7a5230" stroke-width="0.95"/>
<circle cx="403.60" cy="282.10" r="1.55" fill="#8ab888" stroke="#2a5a2a" stroke-width="1.0"/>
<circle cx="407.10" cy="283.60" r="1.75" fill="#1c3a5e" stroke="#0c2038" stroke-width="0.7"/>
<circle cx="406.10" cy="286.70" r="1.75" fill="#1c3a5e" stroke="#0c2038" stroke-width="0.7"/>
<circle cx="409.00" cy="279.80" r="1.55" fill="#8ab888" stroke="#2a5a2a" stroke-width="1.0"/>
<circle cx="410.80" cy="281.50" r="1.75" fill="#1c3a5e" stroke="#0c2038" stroke-width="0.7"/>
<path d="M414.80,281.69 L416.54,278.50 L413.06,278.50 Z" fill="#8a88a0" stroke="#3a3850" stroke-width="0.9"/>
<circle cx="417.10" cy="281.50" r="1.75" fill="#1c3a5e" stroke="#0c2038" stroke-width="0.7"/>
<circle cx="417.70" cy="284.40" r="1.75" fill="#1c3a5e" stroke="#0c2038" stroke-width="0.7"/>
<circle cx="421.10" cy="282.70" r="1.75" fill="#a01a30" stroke="#4a0a15" stroke-width="0.7"/>
<circle cx="422.90" cy="284.40" r="1.75" fill="#1c3a5e" stroke="#0c2038" stroke-width="0.7"/>
<circle cx="424.00" cy="286.10" r="1.75" fill="#1c3a5e" stroke="#0c2038" stroke-width="0.7"/>
<path d="M428.60,284.22 L430.49,286.10 L428.60,287.99 L426.72,286.10 Z" fill="#a9cbe6" stroke="#2f4a6a" stroke-width="1.0"/>
<circle cx="420.60" cy="288.50" r="1.55" fill="#8ab888" stroke="#2a5a2a" stroke-width="1.0"/>
<circle cx="401.50" cy="290.20" r="1.75" fill="#a01a30" stroke="#4a0a15" stroke-width="0.7"/>
<circle cx="401.50" cy="291.30" r="1.75" fill="#a01a30" stroke="#4a0a15" stroke-width="0.7"/>
<circle cx="410.80" cy="289.00" r="1.75" fill="#a01a30" stroke="#4a0a15" stroke-width="0.7"/>
<circle cx="413.60" cy="289.60" r="1.75" fill="#a01a30" stroke="#4a0a15" stroke-width="0.7"/>
<circle cx="414.80" cy="291.90" r="1.75" fill="#a01a30" stroke="#4a0a15" stroke-width="0.7"/>
<circle cx="401.00" cy="294.20" r="1.75" fill="#1c3a5e" stroke="#0c2038" stroke-width="0.7"/>
<circle cx="403.80" cy="293.10" r="1.75" fill="#1c3a5e" stroke="#0c2038" stroke-width="0.7"/>
<circle cx="424.60" cy="291.30" r="1.75" fill="#a01a30" stroke="#4a0a15" stroke-width="0.7"/>
<circle cx="426.90" cy="293.60" r="1.75" fill="#1c3a5e" stroke="#0c2038" stroke-width="0.7"/>
<circle cx="423.40" cy="294.20" r="1.75" fill="#1c3a5e" stroke="#0c2038" stroke-width="0.7"/>
<circle cx="421.10" cy="295.40" r="1.75" fill="#1c3a5e" stroke="#0c2038" stroke-width="0.7"/>
<circle cx="418.30" cy="297.10" r="1.55" fill="#8ab888" stroke="#2a5a2a" stroke-width="1.0"/>
<circle cx="420.60" cy="299.40" r="1.75" fill="#1c3a5e" stroke="#0c2038" stroke-width="0.7"/>
<circle cx="420.60" cy="301.10" r="1.75" fill="#1c3a5e" stroke="#0c2038" stroke-width="0.7"/>
<text x="153.00" y="603.80" font-size="13.8" text-anchor="start" font-weight="bold" fill="#111" >G</text>
<text transform="translate(168.50,666.00) rotate(-90)" x="0" y="0" font-size="10.4" text-anchor="middle" dominant-baseline="central" fill="#262626" font-weight="bold" textLength="50.0" lengthAdjust="spacingAndGlyphs">GeoMFI CD62P</text>
<line x1="206.30" y1="609.00" x2="206.30" y2="720.90" stroke="#1e1e1e" stroke-width="1.45"/>
<line x1="203.10" y1="720.20" x2="206.30" y2="720.20" stroke="#1e1e1e" stroke-width="1.1"/>
<text x="199.80" y="723.20" font-size="9.5" text-anchor="end" font-weight="normal" fill="#222222" >0</text>
<line x1="203.10" y1="684.20" x2="206.30" y2="684.20" stroke="#1e1e1e" stroke-width="1.1"/>
<text x="199.80" y="687.20" font-size="9.5" text-anchor="end" font-weight="normal" fill="#222222" >1000</text>
<line x1="203.10" y1="648.20" x2="206.30" y2="648.20" stroke="#1e1e1e" stroke-width="1.1"/>
<text x="199.80" y="651.20" font-size="9.5" text-anchor="end" font-weight="normal" fill="#222222" >2000</text>
<line x1="203.10" y1="612.20" x2="206.30" y2="612.20" stroke="#1e1e1e" stroke-width="1.1"/>
<text x="199.80" y="615.20" font-size="9.5" text-anchor="end" font-weight="normal" fill="#222222" >3000</text>
<line x1="205.60" y1="720.20" x2="367.50" y2="720.20" stroke="#1e1e1e" stroke-width="1.45"/>
<line x1="206.30" y1="720.20" x2="206.30" y2="723.40" stroke="#1e1e1e" stroke-width="1.1"/>
<text x="206.30" y="734.80" font-size="9.5" text-anchor="middle" font-weight="normal" fill="#222222" >22</text>
<line x1="241.00" y1="720.20" x2="241.00" y2="723.40" stroke="#1e1e1e" stroke-width="1.1"/>
<text x="241.00" y="734.80" font-size="9.5" text-anchor="middle" font-weight="normal" fill="#222222" >27</text>
<line x1="275.70" y1="720.20" x2="275.70" y2="723.40" stroke="#1e1e1e" stroke-width="1.1"/>
<text x="275.70" y="734.80" font-size="9.5" text-anchor="middle" font-weight="normal" fill="#222222" >32</text>
<line x1="310.40" y1="720.20" x2="310.40" y2="723.40" stroke="#1e1e1e" stroke-width="1.1"/>
<text x="310.40" y="734.80" font-size="9.5" text-anchor="middle" font-weight="normal" fill="#222222" >37</text>
<line x1="345.10" y1="720.20" x2="345.10" y2="723.40" stroke="#1e1e1e" stroke-width="1.1"/>
<text x="345.10" y="734.80" font-size="9.5" text-anchor="middle" font-weight="normal" fill="#222222" >42</text>
<text x="209.6" y="620.5" font-size="9.2" fill="#222222">r = 0.42, <tspan font-style="italic">P</tspan> &lt; .01</text>
<text class="nb" x="286.8" y="749.6" font-size="10.8" text-anchor="middle" fill="#262626" font-weight="bold" textLength="50.5" lengthAdjust="spacingAndGlyphs">Gestational age</text>
<line x1="241.25" y1="700.50" x2="339.25" y2="669.50" stroke="#2a2a2a" stroke-width="1.1"/>
<circle cx="297.00" cy="628.00" r="2.0" fill="#431356" stroke="#260834" stroke-width="0.6"/>
<circle cx="276.25" cy="645.00" r="2.0" fill="#431356" stroke="#260834" stroke-width="0.6"/>
<circle cx="339.25" cy="647.50" r="2.0" fill="#431356" stroke="#260834" stroke-width="0.6"/>
<circle cx="318.00" cy="660.50" r="2.0" fill="#431356" stroke="#260834" stroke-width="0.6"/>
<circle cx="325.00" cy="663.00" r="2.0" fill="#431356" stroke="#260834" stroke-width="0.6"/>
<circle cx="339.25" cy="663.00" r="2.0" fill="#431356" stroke="#260834" stroke-width="0.6"/>
<circle cx="339.25" cy="665.50" r="2.0" fill="#431356" stroke="#260834" stroke-width="0.6"/>
<circle cx="276.25" cy="668.75" r="2.0" fill="#431356" stroke="#260834" stroke-width="0.6"/>
<circle cx="290.00" cy="667.00" r="2.0" fill="#431356" stroke="#260834" stroke-width="0.6"/>
<circle cx="290.00" cy="672.50" r="2.0" fill="#431356" stroke="#260834" stroke-width="0.6"/>
<circle cx="297.00" cy="671.25" r="2.0" fill="#431356" stroke="#260834" stroke-width="0.6"/>
<circle cx="311.25" cy="675.00" r="2.0" fill="#431356" stroke="#260834" stroke-width="0.6"/>
<circle cx="332.00" cy="676.25" r="2.0" fill="#431356" stroke="#260834" stroke-width="0.6"/>
<circle cx="241.25" cy="681.25" r="2.0" fill="#431356" stroke="#260834" stroke-width="0.6"/>
<circle cx="268.75" cy="682.00" r="2.0" fill="#431356" stroke="#260834" stroke-width="0.6"/>
<circle cx="268.75" cy="685.00" r="2.0" fill="#431356" stroke="#260834" stroke-width="0.6"/>
<circle cx="290.00" cy="681.25" r="2.0" fill="#431356" stroke="#260834" stroke-width="0.6"/>
<circle cx="290.00" cy="683.75" r="2.0" fill="#431356" stroke="#260834" stroke-width="0.6"/>
<circle cx="297.00" cy="683.00" r="2.0" fill="#431356" stroke="#260834" stroke-width="0.6"/>
<circle cx="325.00" cy="680.75" r="2.0" fill="#431356" stroke="#260834" stroke-width="0.6"/>
<circle cx="325.00" cy="687.00" r="2.0" fill="#431356" stroke="#260834" stroke-width="0.6"/>
<circle cx="268.75" cy="690.50" r="2.0" fill="#431356" stroke="#260834" stroke-width="0.6"/>
<circle cx="276.25" cy="689.25" r="2.0" fill="#431356" stroke="#260834" stroke-width="0.6"/>
<circle cx="283.00" cy="688.00" r="2.0" fill="#431356" stroke="#260834" stroke-width="0.6"/>
<circle cx="283.00" cy="692.50" r="2.0" fill="#431356" stroke="#260834" stroke-width="0.6"/>
<circle cx="283.00" cy="695.50" r="2.0" fill="#431356" stroke="#260834" stroke-width="0.6"/>
<circle cx="283.00" cy="698.00" r="2.0" fill="#431356" stroke="#260834" stroke-width="0.6"/>
<circle cx="290.00" cy="693.00" r="2.0" fill="#431356" stroke="#260834" stroke-width="0.6"/>
<circle cx="290.00" cy="695.50" r="2.0" fill="#431356" stroke="#260834" stroke-width="0.6"/>
<circle cx="318.00" cy="692.00" r="2.0" fill="#431356" stroke="#260834" stroke-width="0.6"/>
<circle cx="268.75" cy="697.50" r="2.0" fill="#431356" stroke="#260834" stroke-width="0.6"/>
<circle cx="268.75" cy="701.25" r="2.0" fill="#431356" stroke="#260834" stroke-width="0.6"/>
<circle cx="276.25" cy="701.25" r="2.0" fill="#431356" stroke="#260834" stroke-width="0.6"/>
<circle cx="276.25" cy="705.75" r="2.0" fill="#431356" stroke="#260834" stroke-width="0.6"/>
<circle cx="290.00" cy="701.25" r="2.0" fill="#431356" stroke="#260834" stroke-width="0.6"/>
<circle cx="290.00" cy="704.50" r="2.0" fill="#431356" stroke="#260834" stroke-width="0.6"/>
<circle cx="297.00" cy="700.50" r="2.0" fill="#431356" stroke="#260834" stroke-width="0.6"/>
<circle cx="241.25" cy="700.50" r="2.0" fill="#431356" stroke="#260834" stroke-width="0.6"/>
<rect x="0.5" y="0.5" width="519" height="759" fill="none" stroke="#4a4a4a" stroke-width="1.2"/>
</svg></body></html>
